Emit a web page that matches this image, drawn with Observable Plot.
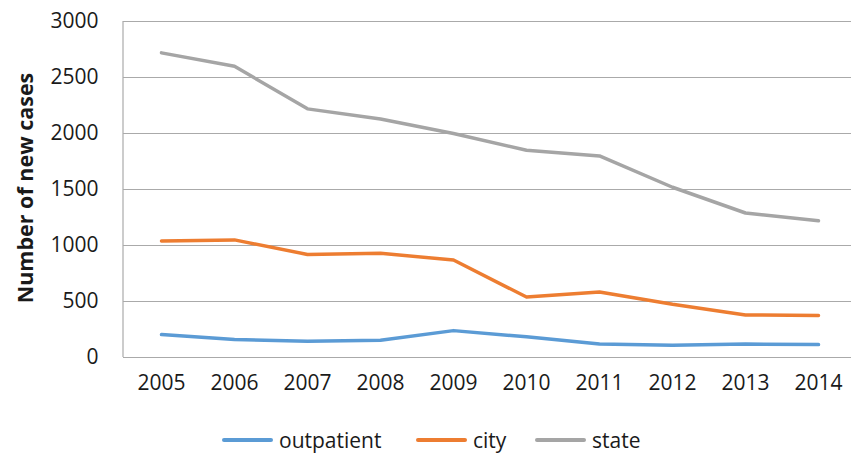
<!DOCTYPE html>
<html>
<head>
<meta charset="utf-8">
<script src="https://cdn.jsdelivr.net/npm/d3@7"></script>
<script src="https://cdn.jsdelivr.net/npm/@observablehq/plot@0.6"></script>
<style>
  body { margin: 0; background: #fff; font-family: "Open Sans", sans-serif; }
  #chart { position: relative; width: 851px; height: 461px; }
  #legend { position: absolute; left: 0; top: 420px; width: 851px; height: 40px; }
  .item { position: absolute; top: 0; height: 40px; display: flex; align-items: center; font-size: 21px; color: #1a1a1a; }
  .swatch { width: 51px; height: 4px; margin-right: 6px; border-radius: 2px; }
</style>
</head>
<body>
<div id="chart"><div id="legend"></div></div>
<script>
// Yearly number of new cases by reporting source
const years = ["2005", "2006", "2007", "2008", "2009", "2010", "2011", "2012", "2013", "2014"];
const outpatient = [205, 160, 145, 155, 240, 185, 120, 110, 120, 115];
const city = [1040, 1050, 920, 930, 870, 540, 585, 475, 380, 375];
const state = [2720, 2600, 2220, 2130, 2000, 1850, 1800, 1520, 1290, 1220];
const seriesNames = ["outpatient", "city", "state"];
const seriesColors = ["#5B9BD5", "#ED7D31", "#A5A5A5"];
const yTicks = [0, 500, 1000, 1500, 2000, 2500, 3000];
const yLabel = "Number of new cases";

const seriesValues = [outpatient, city, state];
const rows = seriesNames.flatMap((name, i) =>
  years.map((year, j) => ({ year, value: seriesValues[i][j], series: name }))
);

const plot = Plot.plot({
  width: 851,
  height: 410,
  marginTop: 21,
  marginBottom: 53,
  marginLeft: 123,
  marginRight: 0,
  style: { fontFamily: "Open Sans, sans-serif", fontSize: "21px", color: "#1a1a1a", background: "#fff" },
  x: { type: "point", domain: years, range: [159.5, 820], padding: 0 },
  y: { domain: [0, 3000] },
  color: { domain: seriesNames, range: seriesColors },
  marks: [
    Plot.ruleY(yTicks, { stroke: "#aaa", strokeWidth: 1.2 }),
    Plot.axisY({ ticks: yTicks, tickFormat: d3.format("d"), tickSize: 0, tickPadding: 25, label: null, fontSize: 21 }),
    Plot.axisX({ tickSize: 0, tickPadding: 18, label: null, fontSize: 21 }),
    Plot.line(rows, {
      x: "year", y: "value", z: "series", stroke: "series",
      strokeWidth: 3.5, strokeLinejoin: "round", strokeLinecap: "round"
    })
  ]
});

// left frame line of the plot area
const svg = d3.select(plot);
svg.append("line")
  .attr("x1", 123).attr("x2", 123).attr("y1", 21).attr("y2", 357)
  .attr("stroke", "#aaa").attr("stroke-width", 1.2);

// rotated y-axis title
svg.append("text")
  .attr("transform", "translate(24,188) rotate(-90)")
  .attr("text-anchor", "middle")
  .attr("dominant-baseline", "central")
  .attr("font-weight", "bold")
  .attr("font-size", 21.5)
  .attr("fill", "#1a1a1a")
  .text(yLabel);

const chart = document.getElementById("chart");
chart.insertBefore(plot, chart.firstChild);

// legend below the chart
const legendX = [222, 416, 535];
const legend = d3.select("#legend");
seriesNames.forEach((name, i) => {
  const item = legend.append("div").attr("class", "item").style("left", legendX[i] + "px");
  item.append("div").attr("class", "swatch").style("background", seriesColors[i]);
  item.append("span").text(name);
});
</script>
</body>
</html>
